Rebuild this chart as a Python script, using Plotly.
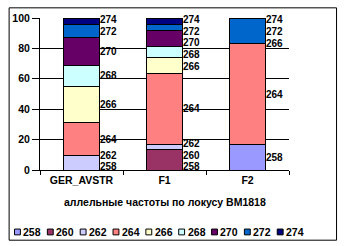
import plotly.graph_objects as go

# ---------------- data ----------------
categories = ["GER_AVSTR", "F1", "F2"]
series_names = ["258", "260", "262", "264", "266", "268", "270", "272", "274"]
s258 = [0, 0, 16.7]
s260 = [None, 13.8, None]
s262 = [9.3, 3.2, None]
s264 = [22.1, 46.5, 66.6]
s266 = [23.8, 10.8, 0]
s268 = [13.8, 6.7, None]
s270 = [18.0, 11.0, None]
s272 = [9.0, 4.0, 16.7]
s274 = [4.0, 4.0, 0]
series_values = [s258, s260, s262, s264, s266, s268, s270, s272, s274]
series_colors = ["#9999FF", "#993366", "#CCCCFF", "#FF8080", "#FFFFCC",
                 "#CCFFFF", "#660066", "#0066CC", "#000080"]
y_ticks = [0, 20, 40, 60, 80, 100]
x_title = "аллельные частоты по локусу BM1818"

# ---------------- layout constants ----------------
W, H = 344, 246
ML, MR, MT, MB = 35, 55, 13, 76
PW, PH = W - ML - MR, H - MT - MB
BAR_W = 0.43
FONT = "Liberation Sans"
FS = 10.5
FS_LAB = 10


def px_x(px):
    return (px - ML) / PW


def px_y(py):
    return (H - MB - py) / PH


def bold(size=FS):
    return dict(family=FONT, size=size, color="black", weight="bold")


fig = go.Figure()
for name, vals, col in zip(series_names, series_values, series_colors):
    fig.add_trace(go.Bar(
        name=name, x=categories, y=vals, width=BAR_W,
        marker=dict(color=col, line=dict(color="black", width=1)),
        showlegend=False, hoverinfo="x+y+name",
    ))

# data labels (series names) at segment middles, with simple overlap avoidance
annotations = []
GAP, LO, HI = 7.7, 2, 99
for ci, cat in enumerate(categories):
    base = 0.0
    items = []
    for name, vals in zip(series_names, series_values):
        v = vals[ci]
        if v is None:
            continue
        items.append([name, min(max(base + v / 2.0, LO), HI)])
        base += v
    for i in range(1, len(items)):
        items[i][1] = max(items[i][1], items[i - 1][1] + GAP)
    items[-1][1] = min(items[-1][1], HI)
    for i in range(len(items) - 2, -1, -1):
        items[i][1] = min(items[i][1], items[i + 1][1] - GAP)
    for name, yy in items:
        annotations.append(dict(
            x=ci + BAR_W / 2, y=yy, xref="x", yref="y", text=name,
            showarrow=False, xanchor="left", yanchor="middle", xshift=0,
            borderpad=0, font=bold(FS_LAB),
        ))

# axis title
annotations.append(dict(
    x=0.5, y=px_y(203), xref="paper", yref="paper", text=x_title,
    showarrow=False, xanchor="center", yanchor="middle", font=bold(),
))

# custom legend row
shapes = []
LEG_X0, LEG_STEP, LEG_Y, SQ = 9, 33.5, 234, 6
for i, (name, col) in enumerate(zip(series_names, series_colors)):
    x0 = LEG_X0 + i * LEG_STEP
    shapes.append(dict(
        type="rect", xref="paper", yref="paper",
        x0=px_x(x0), x1=px_x(x0 + SQ), y0=px_y(LEG_Y + SQ / 2), y1=px_y(LEG_Y - SQ / 2),
        fillcolor=col, line=dict(color="black", width=1), layer="above",
    ))
    annotations.append(dict(
        x=px_x(x0 + SQ + 1), y=px_y(LEG_Y), xref="paper", yref="paper", text=name,
        showarrow=False, xanchor="left", yanchor="middle", font=bold(),
    ))

# chart border
shapes.append(dict(
    type="rect", xref="paper", yref="paper",
    x0=px_x(3.5), x1=px_x(337.5), y0=px_y(242.5), y1=px_y(2.5),
    line=dict(color="black", width=1), fillcolor="rgba(0,0,0,0)", layer="below",
))

fig.update_layout(
    width=W, height=H, barmode="stack",
    margin=dict(l=ML, r=MR, t=MT, b=MB, pad=0),
    paper_bgcolor="white", plot_bgcolor="white",
    font=dict(family=FONT, size=FS, color="black"),
    annotations=annotations, shapes=shapes, showlegend=False,
    xaxis=dict(
        type="category", range=[-0.5, 2.5], showgrid=False,
        showline=True, linecolor="black", linewidth=1,
        ticks="outside", tickson="boundaries", ticklen=4, tickcolor="black",
        tickfont=bold(), fixedrange=True,
    ),
    yaxis=dict(
        range=[0, 100], tickvals=y_ticks, showgrid=True, gridcolor="black", gridwidth=1,
        zeroline=False, showline=True, linecolor="black", linewidth=1,
        ticks="outside", ticklen=7, tickcolor="black",
        tickfont=bold(), fixedrange=True,
    ),
)

fig.write_html("out.html", config={"displayModeBar": False})
